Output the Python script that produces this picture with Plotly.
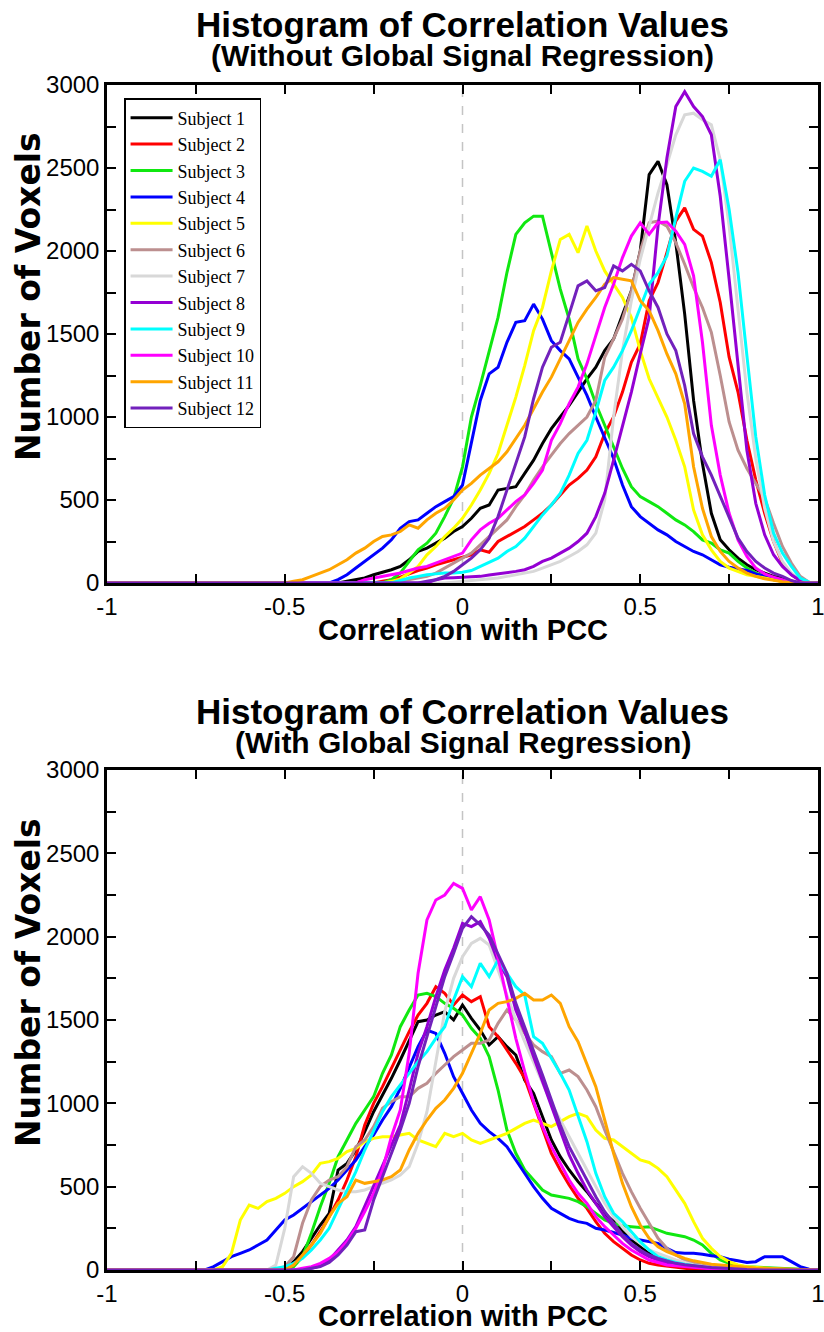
import plotly.graph_objects as go

# ---------------- data (histogram counts, bins of 0.025) ----------------
BIN = 0.025
SUBJECTS = ["Subject 1", "Subject 2", "Subject 3", "Subject 4", "Subject 5", "Subject 6",
            "Subject 7", "Subject 8", "Subject 9", "Subject 10", "Subject 11", "Subject 12"]
COLORS = ["#000000", "#ff0000", "#10e810", "#0000ff", "#ffff00", "#bc8f8f",
          "#d8d8d8", "#9400d3", "#00ffff", "#ff00ff", "#ffa500", "#7221bc"]

# first bin centre of each series (top panel: without GSR)
top_start = [-0.35, -0.25, -0.225, -0.375, -0.225, -0.2, -0.05, -0.1, -0.2, -0.3, -0.5, -0.125]
top_s1 = [0,10,20,30,50,65,80,100,140,190,210,240,270,310,340,390,450,470,560,570,580,660,740,840,930,1000,1070,1150,1230,1300,1400,1470,1620,1760,2000,2460,2540,2400,2050,1620,1100,720,420,260,200,150,110,80,60,40,30,10,0]
top_s2 = [0,10,20,35,55,75,90,110,125,140,155,170,200,185,250,280,310,340,380,420,470,530,590,630,680,760,900,1000,1150,1330,1440,1700,1810,1990,2180,2260,2130,2090,1930,1690,1360,1150,860,620,420,250,120,50,15,0]
top_s3 = [0,20,60,130,200,240,300,400,510,700,1000,1190,1400,1600,1870,2100,2170,2210,2210,1980,1770,1590,1350,1230,1080,950,820,690,580,520,490,460,420,380,350,310,260,240,200,180,130,90,60,40,20,10,0]
top_s4 = [0,20,50,90,130,170,210,260,330,370,380,420,460,490,520,590,850,1100,1260,1300,1450,1570,1580,1680,1590,1460,1400,1350,1240,1130,1000,880,750,590,460,400,360,320,290,250,220,190,170,140,110,95,85,75,55,40,25,10,0]
top_s5 = [0,10,25,60,100,170,220,280,330,390,470,560,660,780,950,1120,1310,1520,1660,1880,2070,2100,1990,2150,2000,1880,1800,1720,1600,1400,1230,1110,1000,860,700,440,290,200,130,90,70,50,40,30,20,10,0]
top_s6 = [0,10,20,30,40,60,90,115,145,180,230,280,330,380,460,530,620,700,770,840,900,950,1000,1100,1360,1470,1590,1760,2000,2170,2180,2150,2050,1920,1780,1660,1510,1250,970,800,690,600,510,360,220,120,40,5,0]
top_s7 = [0,5,10,15,20,25,30,40,50,60,70,90,110,130,160,190,230,300,500,1000,1400,1700,1950,2150,2350,2520,2700,2820,2830,2790,2760,2550,2150,1650,1150,750,450,250,130,60,20,5,0]
top_s8 = [0,20,30,32,35,38,40,48,55,60,70,80,100,130,150,180,210,250,300,400,540,740,950,1150,1380,1600,2150,2560,2870,2960,2870,2810,2700,2330,1830,1300,800,480,290,170,100,50,15,0]
top_s9 = [0,15,30,40,50,55,60,60,65,75,100,125,150,190,220,270,340,410,470,540,650,780,860,1030,1220,1300,1400,1520,1660,1800,1870,1970,2200,2420,2500,2480,2450,2550,2250,1870,1370,880,530,300,180,100,30,5,0]
top_s10 = [0,20,30,40,50,60,75,90,100,120,140,160,180,260,320,360,390,440,490,530,600,680,860,960,1080,1180,1320,1490,1660,1800,1960,2090,2170,2100,2170,2175,2120,2040,1850,1450,950,650,420,260,160,90,55,35,20,5,0]
top_s11 = [0,10,20,40,60,80,110,140,180,210,250,280,290,310,350,330,380,420,450,500,560,600,650,690,730,790,870,950,1050,1150,1240,1350,1470,1570,1650,1720,1800,1840,1830,1820,1700,1640,1520,1380,1260,1080,700,450,280,190,130,90,60,40,25,15,8,3,0]
top_s12 = [0,10,20,40,70,110,150,200,270,400,560,720,880,1110,1300,1420,1450,1620,1790,1820,1760,1780,1910,1880,1920,1880,1760,1660,1500,1400,1190,900,760,650,520,390,270,190,130,90,60,40,15,0]

# first bin centre of each series (bottom panel: with GSR)
bot_start = [-0.5, -0.5, -0.5, -0.725, -0.7, -0.525, -0.55, -0.45, -0.55, -0.475, -0.5, -0.45]
bot_s1 = [0,50,110,190,270,340,600,640,720,830,950,1050,1150,1260,1380,1490,1500,1530,1550,1500,1590,1510,1440,1350,1400,1340,1290,1140,1060,920,780,680,600,530,470,400,340,290,230,180,140,100,70,50,35,25,20,15,10,7,5,2,0]
bot_s2 = [0,30,80,150,230,320,420,540,680,870,1000,1100,1210,1330,1430,1530,1600,1700,1660,1590,1650,1610,1640,1460,1400,1320,1240,1150,1000,850,700,600,510,430,370,290,220,170,130,90,60,40,30,22,15,10,5,2,0]
bot_s3 = [0,20,80,220,380,520,680,780,880,960,1040,1180,1290,1460,1560,1650,1660,1640,1600,1570,1530,1450,1390,1280,1080,840,700,600,540,480,450,440,430,410,380,340,300,280,265,260,255,260,240,220,210,200,180,150,100,60,40,25,20,18,15,13,12,10,8,3,0]
bot_s4 = [0,20,50,80,100,120,150,180,240,300,330,370,410,450,490,540,600,660,740,810,900,980,1090,1210,1340,1440,1420,1300,1160,1060,960,880,830,790,740,660,580,500,430,370,340,310,290,280,250,240,225,210,190,180,170,160,130,105,100,100,95,85,80,65,55,45,50,80,80,80,50,20,5,0]
bot_s5 = [0,20,100,300,390,370,410,430,460,500,530,570,640,650,670,710,730,770,790,800,800,810,820,780,760,740,820,800,820,780,760,780,800,820,850,880,900,880,860,890,920,940,920,840,790,780,740,700,660,645,610,560,480,400,290,190,130,80,50,30,20,15,10,7,5,2,0]
bot_s6 = [0,20,80,280,420,500,540,560,620,740,780,860,970,1010,1040,1040,1090,1120,1180,1230,1280,1320,1360,1360,1380,1480,1560,1500,1420,1350,1310,1280,1180,1200,1160,1080,980,840,710,580,470,370,280,190,130,90,60,40,30,20,15,10,5,0]
bot_s7 = [0,30,250,560,620,580,520,500,480,470,470,480,500,520,540,570,620,760,950,1250,1550,1750,1880,1960,1990,1950,1800,1640,1500,1370,1250,1120,1000,900,800,700,600,500,400,320,260,200,160,120,100,80,60,45,30,22,15,10,5,2,0]
bot_s8 = [0,10,25,60,120,180,260,380,500,620,740,870,1080,1300,1460,1640,1800,1930,2080,2060,2090,1990,1850,1760,1560,1430,1280,1130,980,830,690,580,480,400,320,260,200,150,110,80,60,45,35,28,20,15,10,7,5,2,0]
bot_s9 = [0,10,20,40,70,120,180,250,360,480,590,720,830,950,1040,1110,1180,1250,1310,1390,1460,1620,1760,1700,1840,1760,1860,1780,1700,1650,1400,1360,1270,1180,1080,920,770,580,440,340,290,230,170,120,80,60,45,35,25,18,12,8,5,2,0]
bot_s10 = [0,10,20,40,70,110,170,250,350,460,600,800,960,1300,1780,2100,2220,2250,2320,2290,2160,2240,2100,1870,1620,1390,1190,1010,860,740,640,540,460,400,320,260,210,160,120,90,60,45,30,25,20,15,10,7,5,3,2,0]
bot_s11 = [0,30,90,150,220,320,400,440,540,520,530,540,560,600,720,820,900,970,1020,1090,1180,1300,1420,1560,1600,1610,1630,1660,1620,1620,1650,1600,1460,1370,1230,1100,900,700,520,380,270,190,140,110,90,70,55,45,35,30,25,20,15,12,10,8,5,3,0]
bot_s12 = [0,10,20,45,90,150,230,240,420,560,700,840,1000,1220,1400,1580,1760,1900,2050,2120,2070,2010,1900,1780,1600,1460,1320,1170,1020,870,740,640,540,440,350,280,210,160,120,90,70,55,40,32,25,20,15,12,8,5,3,2,0]

TOP_SERIES = [top_s1, top_s2, top_s3, top_s4, top_s5, top_s6, top_s7, top_s8, top_s9, top_s10, top_s11, top_s12]
BOT_SERIES = [bot_s1, bot_s2, bot_s3, bot_s4, bot_s5, bot_s6, bot_s7, bot_s8, bot_s9, bot_s10, bot_s11, bot_s12]

X_TICKS = [-1, -0.5, 0, 0.5, 1]
X_TICKTEXT = ["-1", "-0.5", "0", "0.5", "1"]
Y_TICKS = [0, 500, 1000, 1500, 2000, 2500, 3000]
Y_TICKTEXT = ["0", "500", "1000", "1500", "2000", "2500", "3000"]

TITLE = "Histogram of Correlation Values"
SUB_TOP = "(Without Global Signal Regression)"
SUB_BOT = "(With Global Signal Regression)"
XLABEL = "Correlation with PCC"
YLABEL = "Number of Voxels"


def series_xy(start, vals):
    xs = [round(start + i * BIN, 4) for i in range(len(vals))]
    ys = list(vals)
    if xs[0] > -1:
        xs = [-1.0] + xs
        ys = [0] + ys
    if xs[-1] < 1:
        xs = xs + [1.0]
        ys = ys + [0]
    return xs, ys


fig = go.Figure()
for i, name in enumerate(SUBJECTS):
    x, y = series_xy(top_start[i], TOP_SERIES[i])
    fig.add_trace(go.Scatter(x=x, y=y, mode="lines", name=name,
                             line=dict(color=COLORS[i], width=3),
                             xaxis="x", yaxis="y", showlegend=True))
for i, name in enumerate(SUBJECTS):
    x, y = series_xy(bot_start[i], BOT_SERIES[i])
    fig.add_trace(go.Scatter(x=x, y=y, mode="lines", name=name,
                             line=dict(color=COLORS[i], width=3),
                             xaxis="x2", yaxis="y2", showlegend=False))

TICKFONT = dict(family="Liberation Sans, Arial, sans-serif", size=24, color="black")

def xaxis(anchor):
    return dict(domain=[0, 1], anchor=anchor, range=[-1, 1],
                tickmode="array", tickvals=X_TICKS, ticktext=X_TICKTEXT,
                ticks="inside", ticklen=9, tickwidth=1.5, tickcolor="black",
                minor=dict(tickmode="array", tickvals=[-0.75, -0.25, 0.25, 0.75],
                           ticks="inside", ticklen=9, tickwidth=1.5, tickcolor="black"),
                showline=True, linewidth=2.5, linecolor="black", mirror="ticks",
                showgrid=False, zeroline=False, tickfont=TICKFONT, fixedrange=True)

def yaxis(anchor, dom):
    return dict(domain=dom, anchor=anchor, range=[0, 3000],
                tickmode="array", tickvals=Y_TICKS, ticktext=Y_TICKTEXT,
                ticks="inside", ticklen=9, tickwidth=1.5, tickcolor="black",
                minor=dict(tickmode="array", tickvals=[250, 750, 1250, 1750, 2250, 2750],
                           ticks="inside", ticklen=9, tickwidth=1.5, tickcolor="black"),
                showline=True, linewidth=2.5, linecolor="black", mirror="ticks",
                showgrid=False, zeroline=False, tickfont=TICKFONT, fixedrange=True)

H_PLOT = 1185.0
def py(p):
    return (1270.0 - p) / H_PLOT

fig.update_layout(
    width=830, height=1332,
    margin=dict(l=107, r=5, t=85, b=62),
    paper_bgcolor="white", plot_bgcolor="white",
    xaxis=xaxis("y"), yaxis=yaxis("x", [py(583), 1.0]),
    xaxis2=xaxis("y2"), yaxis2=yaxis("x2", [0.0, py(770)]),
    legend=dict(x=0.024, y=py(98), xanchor="left", yanchor="top",
                bgcolor="white", bordercolor="black", borderwidth=1.5,
                font=dict(family="Liberation Serif, Times New Roman, serif", size=18, color="black"),
                tracegroupgap=0, itemwidth=42),
    showlegend=True,
)

# dashed zero lines
for xr, yr in (("x", "y"), ("x2", "y2")):
    fig.add_shape(type="line", xref=xr, yref=yr, x0=0, x1=0, y0=0, y1=3000,
                  line=dict(color="#c4c4c4", width=1.5, dash="dash"), layer="below")

TFONT = dict(family="Liberation Sans, Arial, sans-serif", size=35, color="black")
SFONT = dict(family="Liberation Sans, Arial, sans-serif", size=30, color="black")
XFONT = dict(family="Liberation Sans, Arial, sans-serif", size=29, color="black")
YFONT = dict(family="DejaVu Sans, sans-serif", size=33, color="black")

ann = [
    (TITLE, 25, TFONT), (SUB_TOP, 56, SFONT),
    (TITLE, 711, TFONT), (SUB_BOT, 742, SFONT),
]
for text, p, f in ann:
    fig.add_annotation(text="<b>%s</b>" % text, xref="paper", yref="paper",
                       x=0.5, y=py(p), xanchor="center", yanchor="middle",
                       showarrow=False, font=f)
for p in (630, 1316):
    fig.add_annotation(text="<b>%s</b>" % XLABEL, xref="paper", yref="paper",
                       x=0.5, y=py(p), xanchor="center", yanchor="middle",
                       showarrow=False, font=XFONT)
for p in (297, 983):
    fig.add_annotation(text="<b>%s</b>" % YLABEL, xref="paper", yref="paper",
                       x=-0.111, y=py(p), xanchor="center", yanchor="middle",
                       textangle=-90, showarrow=False, font=YFONT)

# pin the figure to the page origin
POST = ("document.documentElement.style.margin='0';"
        "document.body.style.margin='0';"
        "document.documentElement.style.overflow='hidden';"
        "document.body.style.overflow='hidden';"
        "var d=document.getElementById('{plot_id}');"
        "d.style.position='fixed';d.style.left='0px';d.style.top='0px';")
fig.write_html("out.html", config={"displayModeBar": False}, post_script=POST)
